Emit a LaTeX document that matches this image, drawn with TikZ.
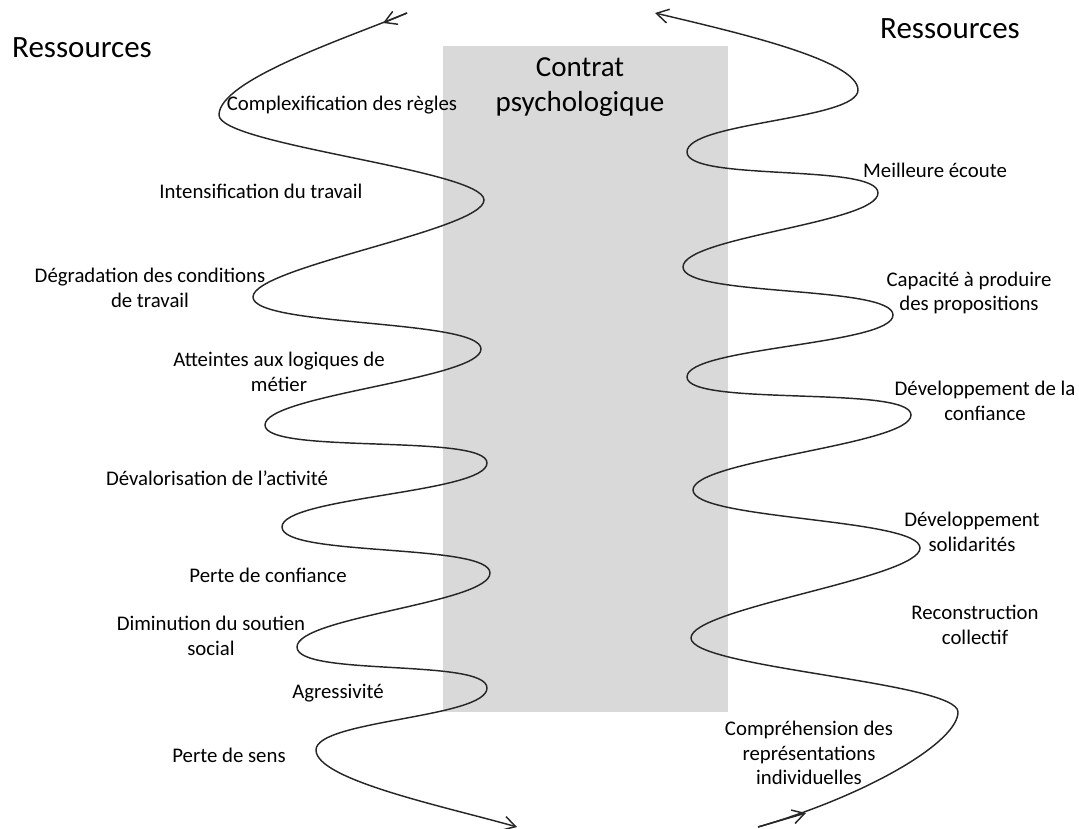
\documentclass[tikz,border=0pt]{standalone}
\usepackage{fontspec}
\setmainfont{Carlito}
\usetikzlibrary{arrows.meta}
\definecolor{boxgray}{RGB}{217,217,217}
\begin{document}
\begin{tikzpicture}[x=1pt,y=-1pt,
  lab/.style={font=\fontsize{20.8}{24.5}\selectfont, align=center, inner sep=0pt, text=black},
  big/.style={font=\fontsize{31}{36}\selectfont, inner sep=0pt},
  ttl/.style={font=\fontsize{29}{35}\selectfont, align=center, inner sep=0pt},
  wave/.style={line width=1.45pt, draw=black!85},
  arr/.style={wave, -{Straight Barb[length=12pt,width=14pt]}}]
\useasboundingbox (0,0) rectangle (1079,829);
\fill[boxgray] (443,46) rectangle (728,712);

% left wave (flows downward)
\coordinate (ls) at (407,13);
\coordinate (la) at (383,23);
\coordinate (L1) at (219,115);
\coordinate (R1) at (484,200);
\coordinate (L2) at (253,297);
\coordinate (R2) at (481,349);
\coordinate (L3) at (265,425);
\coordinate (R3) at (487,463);
\coordinate (L4) at (282,527);
\coordinate (R4) at (490,573);
\coordinate (L5) at (297,647);
\coordinate (R5) at (487,688);
\coordinate (L6) at (316,750);
\coordinate (le) at (517,827);

\draw[arr] (ls) .. controls +(-60,25) and +(0,-35) .. (L1)
  .. controls +(0,30) and +(0,-30) .. (R1)
  .. controls +(0,30) and +(0,-30) .. (L2)
  .. controls +(0,30) and +(0,-30) .. (R2)
  .. controls +(0,30) and +(0,-30) .. (L3)
  .. controls +(0,30) and +(0,-30) .. (R3)
  .. controls +(0,30) and +(0,-30) .. (L4)
  .. controls +(0,30) and +(0,-30) .. (R4)
  .. controls +(0,30) and +(0,-30) .. (L5)
  .. controls +(0,30) and +(0,-30) .. (R5)
  .. controls +(0,30) and +(0,-30) .. (L6)
  .. controls +(0,30) and +(-70,-20) .. (le);
\draw[arr] (ls) -- (la);

% right wave (flows upward)
\coordinate (rs) at (758,827);
\coordinate (ra) at (806,813);
\coordinate (Q1) at (958,712);
\coordinate (P1) at (691,638);
\coordinate (Q2) at (920,548);
\coordinate (P2) at (693,490);
\coordinate (Q3) at (911,415);
\coordinate (P3) at (687,377);
\coordinate (Q4) at (893,315);
\coordinate (P4) at (683,267);
\coordinate (Q5) at (878,193);
\coordinate (P5) at (687,152);
\coordinate (Q6) at (858,90);
\coordinate (re) at (655,13);

\draw[arr] (rs) .. controls +(110,-32) and +(0,30) .. (Q1)
  .. controls +(0,-30) and +(0,30) .. (P1)
  .. controls +(0,-30) and +(0,30) .. (Q2)
  .. controls +(0,-30) and +(0,30) .. (P2)
  .. controls +(0,-30) and +(0,30) .. (Q3)
  .. controls +(0,-30) and +(0,30) .. (P3)
  .. controls +(0,-30) and +(0,30) .. (Q4)
  .. controls +(0,-30) and +(0,30) .. (P4)
  .. controls +(0,-30) and +(0,30) .. (Q5)
  .. controls +(0,-30) and +(0,30) .. (P5)
  .. controls +(0,-30) and +(0,30) .. (Q6)
  .. controls +(0,-30) and +(80,19) .. (re);
\draw[arr] (rs) -- (ra);

% titles
\node[big, anchor=west] (resL) at (12,48) {Ressources};
\node[big] (resR) at (950,29) {Ressources};
\node[ttl] (title) at (580,87) {Contrat\\psychologique};

% left labels
\node[lab] (c1) at (342,105) {Complexification des règles};
\node[lab] (c2) at (261,191) {Intensification du travail};
\node[lab] (c3) at (150,288) {Dégradation des conditions\\de travail};
\node[lab] (c4) at (279,372) {Atteintes aux logiques de\\métier};
\node[lab] (c5) at (217,478) {Dévalorisation de l’activité};
\node[lab] (c6) at (268,575) {Perte de confiance};
\node[lab] (c7) at (211,636) {Diminution du soutien\\social};
\node[lab] (c8) at (338,693) {Agressivité};
\node[lab] (c9) at (229,755) {Perte de sens};

% right labels
\node[lab] (d1) at (935,170) {Meilleure écoute};
\node[lab] (d2) at (969,293) {Capacité à produire\\des propositions};
\node[lab] (d3) at (985,401) {Développement de la\\confiance};
\node[lab] (d4) at (972,532) {Développement\\solidarités};
\node[lab] (d5) at (975,625) {Reconstruction\\collectif};
\node[lab] (d6) at (809,753) {Compréhension des\\représentations\\individuelles};
\end{tikzpicture}
\end{document}
